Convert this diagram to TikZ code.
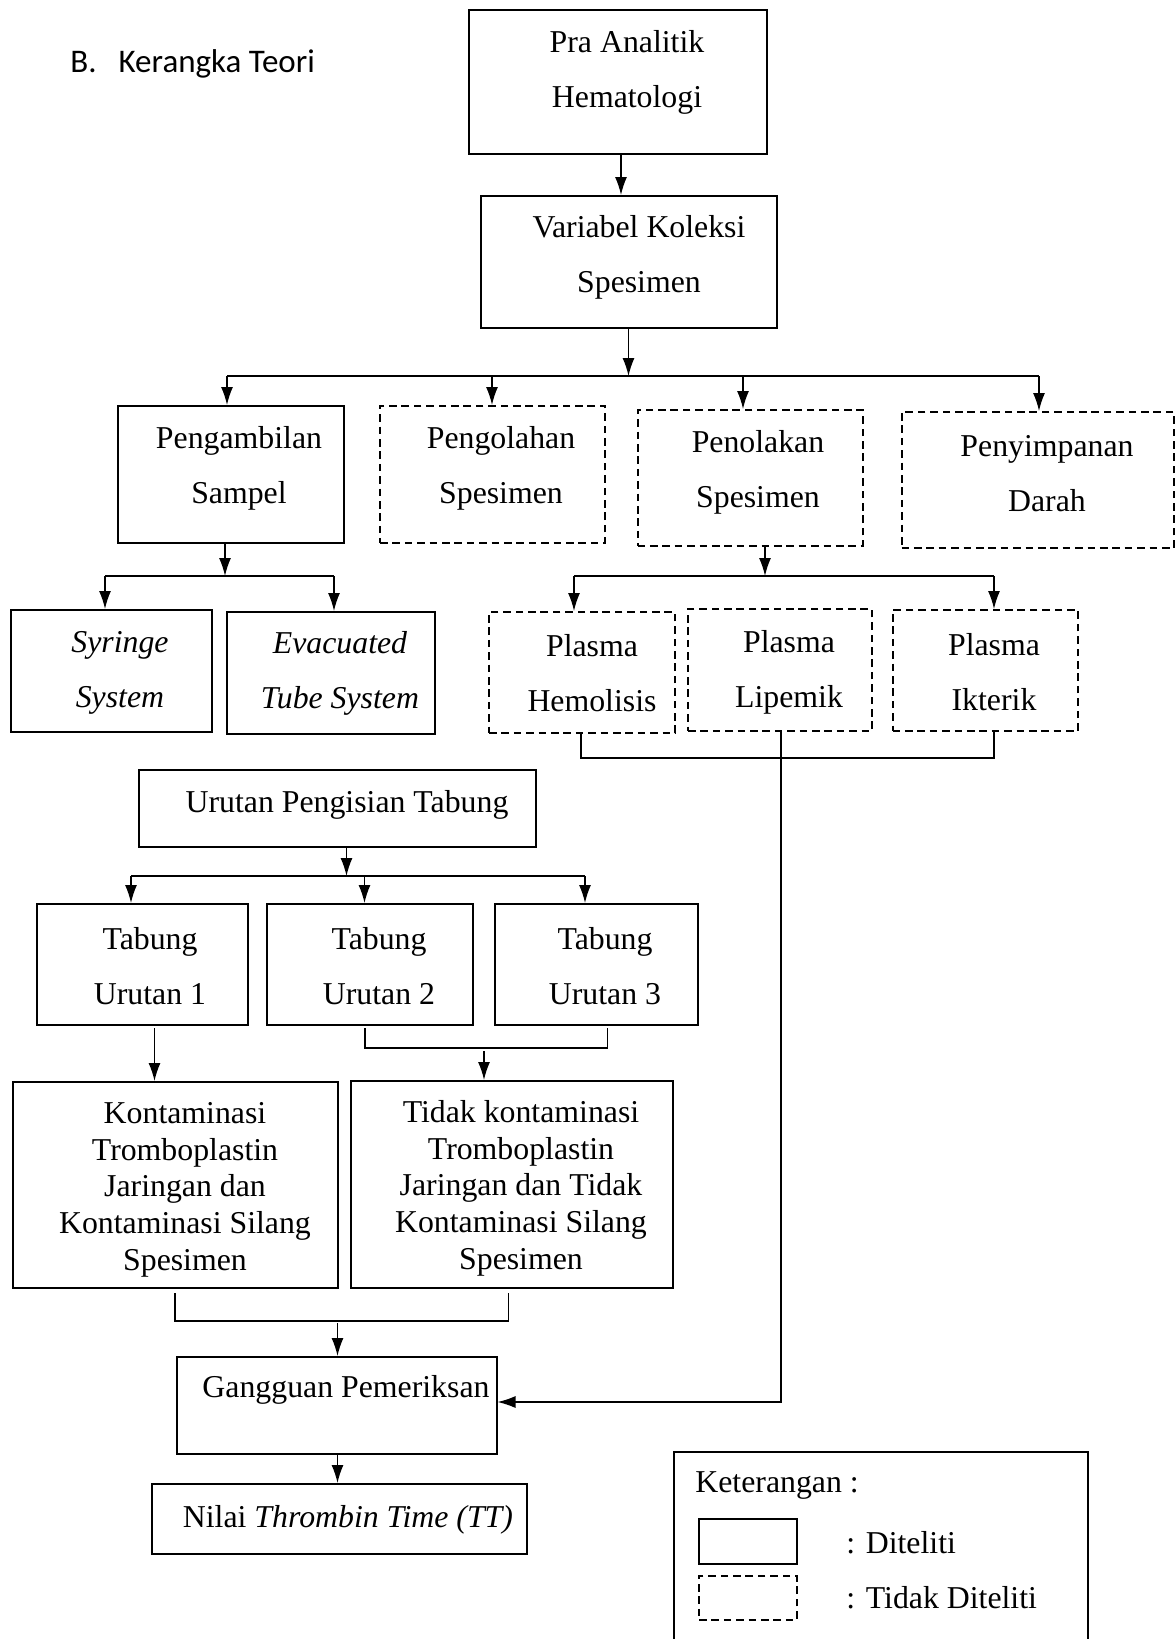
\documentclass[tikz,border=0pt]{standalone}
\usepackage{fontspec}
\setmainfont{Liberation Serif}
\newfontfamily\titlefont{Carlito}
\usetikzlibrary{arrows.meta,fit}
\tikzset{
  box/.style={draw, line width=1pt, inner sep=0pt},
  dbox/.style={box, dash pattern=on 3.8pt off 2.4pt},
  lbl/.style={align=center, font=\fontsize{15.9}{27.5}\selectfont, inner sep=0pt, yshift=-1.6pt},
  lblk/.style={align=center, font=\fontsize{15.9}{18.4}\selectfont, inner sep=0pt, yshift=-1.6pt},
  leg/.style={anchor=west, font=\fontsize{15.9}{18}\selectfont, inner sep=0pt, yshift=-1.2pt},
  conn/.style={line width=0.7pt},
  arr/.style={conn, -{Latex[length=9pt,width=6pt]}},
}
\begin{document}
\begin{tikzpicture}[x=0.5pt,y=-0.5pt]
\useasboundingbox (0,0) rectangle (1176,1639);
\node[anchor=base west, font=\titlefont\fontsize{16.5}{20}\selectfont, inner sep=0pt] (title) at (70,72) {B.\hspace{11pt}Kerangka Teori};

% top
\node[box, fit={(469,10) (767,154)}] (pra) {};
\node[lbl] (praT) at (627,69.5) {Pra Analitik\\Hematologi};
\node[box, fit={(481,196) (777,328)}] (var) {};
\node[lbl] (varT) at (639,254.5) {Variabel Koleksi\\Spesimen};
\draw[arr] (621,0 |- pra.south) -- (621,0 |- var.north);

% level 2
\node[box, fit={(118,406) (343.5,543)}] (amb) {};
\node[lbl] (ambT) at (239,465) {Pengambilan\\Sampel};
\node[dbox, fit={(380,406) (605,543)}] (olah) {};
\node[lbl] (olahT) at (501,465) {Pengolahan\\Spesimen};
\node[dbox, fit={(637.5,410) (862.5,546)}] (tolak) {};
\node[lbl] (tolakT) at (758,469.5) {Penolakan\\Spesimen};
\node[dbox, fit={(901.5,412) (1174,548)}] (simpan) {};
\node[lbl] (simpanT) at (1047,470.5) {Penyimpanan\\Darah};

\coordinate (b1) at (628.5,376);
\coordinate (b1L) at (227,376);
\coordinate (b1R) at (1039,376);
\draw[arr] (b1 |- var.south) -- (b1);
\draw[conn] (b1L) -- (b1R);
\draw[arr] (b1L) -- (b1L |- amb.north);
\draw[arr] (492,376) -- (492,0 |- olah.north);
\draw[arr] (743,376) -- (743,0 |- tolak.north);
\draw[arr] (b1R) -- (b1R |- simpan.north);

% level 3 left
\node[box, fit={(11,610) (211.5,732)}] (syr) {};
\node[lbl, font=\fontsize{15.9}{27.5}\selectfont\itshape] (syrT) at (120,669.5) {Syringe\\System};
\node[box, fit={(227,612) (435,734)}] (evac) {};
\node[lbl, font=\fontsize{15.9}{27.5}\selectfont\itshape] (evacT) at (340,670.5) {Evacuated\\Tube System};
\coordinate (b2) at (225,576);
\coordinate (b2L) at (105,576);
\coordinate (b2R) at (334,576);
\draw[arr] (b2 |- amb.south) -- (b2);
\draw[conn] (b2L) -- (b2R);
\draw[arr] (b2L) -- (b2L |- syr.north);
\draw[arr] (b2R) -- (b2R |- evac.north);

% level 3 right
\node[dbox, fit={(489,612) (675,733)}] (hem) {};
\node[lbl] (hemT) at (592,670) {Plasma\\Hemolisis};
\node[dbox, fit={(688,609) (872,731)}] (lip) {};
\node[lbl] (lipT) at (789,669) {Plasma\\Lipemik};
\node[dbox, fit={(892.5,610) (1078,731)}] (ikt) {};
\node[lbl] (iktT) at (994,669) {Plasma\\Ikterik};
\coordinate (b3) at (765,576);
\coordinate (b3L) at (574,576);
\coordinate (b3R) at (994,576);
\draw[arr] (b3 |- tolak.south) -- (b3);
\draw[conn] (b3L) -- (b3R);
\draw[arr] (b3L) -- (b3L |- hem.north);
\draw[arr] (b3R) -- (b3R |- ikt.north);
\coordinate (k1) at (581,758);
\coordinate (k2) at (994,758);
\draw[conn] (k1 |- hem.south) -- (k1) -- (k2) -- (k2 |- ikt.south);

% urutan
\node[box, fit={(139,770) (536,847)}] (urut) {};
\node[lbl] (urutT) at (347,802) {Urutan Pengisian Tabung};
\node[box, fit={(37,904) (247.5,1025)}] (t1) {};
\node[lbl] (t1T) at (150,962.5) {Tabung\\Urutan 1};
\node[box, fit={(267,904) (472.5,1025)}] (t2) {};
\node[lbl] (t2T) at (379,962.5) {Tabung\\Urutan 2};
\node[box, fit={(495,904) (697.5,1025)}] (t3) {};
\node[lbl] (t3T) at (605,962.5) {Tabung\\Urutan 3};
\coordinate (b4) at (346.5,876);
\coordinate (b4L) at (131,876);
\coordinate (b4R) at (585,876);
\draw[arr] (b4 |- urut.south) -- (b4);
\draw[conn] (b4L) -- (b4R);
\draw[arr] (b4L) -- (b4L |- t1.north);
\draw[arr] (364.5,876) -- (364.5,0 |- t2.north);
\draw[arr] (b4R) -- (b4R |- t3.north);

% kontaminasi
\node[box, fit={(13,1082) (337.5,1288)}] (kon) {};
\node[lblk] (konT) at (185,1186.5) {Kontaminasi\\Tromboplastin\\Jaringan dan\\Kontaminasi Silang\\Spesimen};
\node[box, fit={(351,1081) (673,1288)}] (tdk) {};
\node[lblk] (tdkT) at (521,1185) {Tidak kontaminasi\\Tromboplastin\\Jaringan dan Tidak\\Kontaminasi Silang\\Spesimen};
\draw[arr] (154.5,1028) -- (154.5,0 |- kon.north);
\coordinate (k3) at (365,1048);
\coordinate (k4) at (607.5,1048);
\draw[conn] (365,1028) -- (k3) -- (k4) -- (607.5,1028);
\draw[arr] (484,1051) -- (484,0 |- tdk.north);

% gangguan
\node[box, fit={(177,1357) (496.5,1454)}] (gang) {};
\node[lbl] (gangT) at (346,1387) {Gangguan Pemeriksan};
\coordinate (k5) at (175,1321);
\coordinate (k6) at (508.5,1321);
\draw[conn] (175,1293) -- (k5) -- (k6) -- (508.5,1293);
\draw[arr] (337.5,1323) -- (337.5,0 |- gang.north);
\coordinate (k7) at (781,1402);
\draw[arr] (k7 |- lip.south) -- (k7) -- (k7 -| gang.east);

\node[box, fit={(151.5,1484) (526.5,1554)}] (nilai) {};
\node[lbl] (nilaiT) at (348,1517) {Nilai \textit{Thrombin Time (TT)}};
\draw[arr] (337.5,0 |- gang.south) -- (337.5,0 |- nilai.north);

% legend
\node[box, fit={(674,1452) (1088,1660)}] (legend) {};
\node[leg] (ketT) at (695,1483) {Keterangan :};
\node[box, fit={(699,1519) (797,1564)}] (legS) {};
\node[leg] (legST) at (846,1540) {: Diteliti};
\node[dbox, fit={(699,1576) (797,1620)}] (legD) {};
\node[leg] (legDT) at (846,1595) {: Tidak Diteliti};
\end{tikzpicture}
\end{document}
